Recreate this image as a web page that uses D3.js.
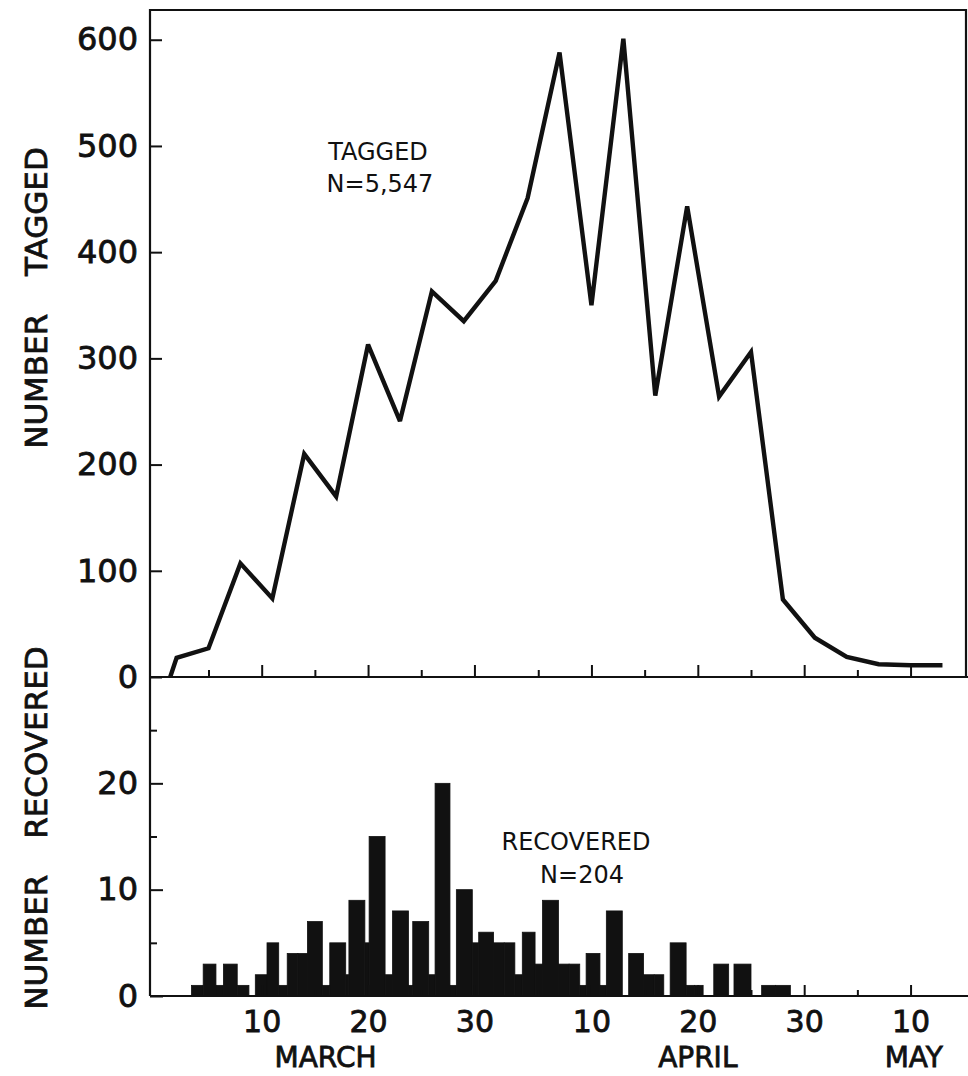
<!DOCTYPE html>
<html lang="en">
<head>
  <meta charset="UTF-8">
  <title>Number tagged and recovered</title>
  <script src="https://d3js.org/d3.v7.min.js"></script>
  <style>
    body {
      margin: 0;
      padding: 0;
      background: #fff;
    }
    svg {
      display: block;
      font-family: "DejaVu Sans", sans-serif;
    }
    .heavy {
      stroke: #111;
      stroke-width: 0.8px;
    }
  </style>
</head>
<body>
  <svg width="968" height="1076"></svg>

  <script>
    // days counted from the end of February (day 1 = March 1)
    const tagDays   = [1.4, 2, 5, 8, 11, 14, 17, 20, 23, 26, 29, 32, 35, 38, 41, 44, 47, 50, 53, 56, 59, 62, 65, 68, 71, 74];
    const tagCounts = [0, 18, 27, 107, 74, 210, 170, 313, 241, 363, 335, 373, 451, 588, 350, 601, 265, 443, 264, 306, 73, 37, 19, 12, 11, 11];

    // recovered histogram: bin edges (days) and counts
    const binStart  = [3.4, 4.5, 5.7, 6.4, 7.7, 9.4, 10.5, 11.6, 12.4, 13.4, 14.3, 15.7, 16.4, 17.9, 18.2, 19.7, 20.1, 21.6, 22.3, 23.8, 24.2, 25.7,
                       26.3, 27.7, 28.3, 29.8, 30.4, 31.8, 32.8, 33.8, 34.5, 35.7, 36.4, 37.9, 38.9, 39.9, 40.5, 41.8, 42.4, 44.5, 45.9, 46.9,
                       48.4, 49.9, 50.7, 52.5, 54.4, 57.0, 58.3];
    const binEnd    = [4.5, 5.7, 6.4, 7.7, 8.8, 10.5, 11.6, 12.4, 13.4, 14.3, 15.7, 16.4, 17.9, 18.2, 19.7, 20.1, 21.6, 22.3, 23.8, 24.2, 25.7, 26.3,
                       27.7, 28.3, 29.8, 30.4, 31.8, 32.8, 33.8, 34.5, 35.7, 36.4, 37.9, 38.9, 39.9, 40.5, 41.8, 42.4, 43.9, 45.9, 46.9, 47.8,
                       49.9, 50.7, 51.5, 53.9, 56.0, 58.3, 59.7];
    const recovered = [1, 3, 1, 3, 1, 2, 5, 1, 4, 4, 7, 1, 5, 2, 9, 5, 15, 2, 8, 1, 7, 2,
                       20, 1, 10, 5, 6, 5, 5, 2, 6, 3, 9, 3, 3, 1, 4, 1, 8, 4, 2, 2,
                       5, 1, 1, 3, 3, 1, 1];

    const majorDays   = [10, 20, 30, 41, 51, 61, 71];
    const majorLabels = ["10", "20", "30", "10", "20", "30", "10"];
    const minorDays   = [5, 15, 25, 36, 46, 56, 66];
    const months      = ["MARCH", "APRIL", "MAY"];
    const monthDays   = [16, 51, 71.3];

    const topTicks = [0, 100, 200, 300, 400, 500, 600];
    const botMajor = [0, 10, 20];
    const botMinor = [5, 15, 25];

    const svg = d3.select("svg");
    const ink = "#111";

    const x = d3.scaleLinear().domain([-0.5, 76.4]).range([150, 968]);
    const yTop = d3.scaleLinear().domain([0, 628]).range([677, 10]);
    const yBot = d3.scaleLinear().domain([0, 30]).range([996, 677]);

    // recovered bars
    const bins = binStart.map((s, i) => ({ s: s, e: binEnd[i], n: recovered[i] }));
    svg.append("g")
      .selectAll("rect")
      .data(bins)
      .enter().append("rect")
      .attr("x", d => x(d.s))
      .attr("width", d => x(d.e) - x(d.s))
      .attr("y", d => yBot(d.n))
      .attr("height", d => yBot(0) - yBot(d.n))
      .attr("fill", ink)
      .attr("stroke", ink)
      .attr("stroke-width", 0.8);

    // tagged line
    const line = d3.line()
      .x((d, i) => x(tagDays[i]))
      .y(d => yTop(d));

    svg.append("path")
      .datum(tagCounts)
      .attr("d", line)
      .attr("fill", "none")
      .attr("stroke", ink)
      .attr("stroke-width", 4.4)
      .attr("stroke-linejoin", "miter")
      .attr("stroke-miterlimit", 3);

    // x ticks on both panels
    function xTicks(y0, vals, len) {
      const g = svg.append("g")
        .attr("transform", `translate(0,${y0})`)
        .call(d3.axisBottom(x).tickValues(vals).tickSize(-len).tickFormat(""));
      g.select(".domain").remove();
      g.selectAll("line").attr("stroke", ink).attr("stroke-width", 2);
      return g;
    }
    xTicks(yTop(0), majorDays, 12);
    xTicks(yTop(0), minorDays, 7);
    xTicks(yBot(0), majorDays, 11);
    xTicks(yBot(0), minorDays, 6);

    // x labels
    const xLab = svg.append("g")
      .attr("transform", `translate(0,${yBot(0)})`)
      .call(d3.axisBottom(x).tickValues(majorDays).tickSize(0).tickPadding(15)
        .tickFormat((d, i) => majorLabels[i]));
    xLab.select(".domain").remove();
    xLab.selectAll("text")
      .attr("class", "heavy")
      .attr("font-size", 30)
      .attr("font-family", "DejaVu Sans")
      .attr("fill", ink);

    svg.append("g")
      .selectAll("text")
      .data(months)
      .enter().append("text")
      .attr("class", "heavy")
      .attr("x", (d, i) => x(monthDays[i]))
      .attr("y", 1067)
      .attr("text-anchor", "middle")
      .attr("font-size", 28)
      .attr("fill", ink)
      .text(d => d);

    // y axes
    function yAxis(scale, vals, len, labels) {
      const g = svg.append("g")
        .attr("transform", "translate(150,0)")
        .call(d3.axisLeft(scale).tickValues(vals).tickSize(-len).tickPadding(12)
          .tickFormat(labels ? d3.format("d") : ""));
      g.select(".domain").remove();
      g.selectAll("line").attr("stroke", ink).attr("stroke-width", 2);
      g.selectAll("text").attr("class", "heavy").attr("font-size", 32)
        .attr("font-family", "DejaVu Sans").attr("fill", ink);
      return g;
    }
    yAxis(yTop, topTicks, 12, true);
    yAxis(yBot, botMajor, 13, true);
    yAxis(yBot, botMinor, 7, false);

    // frame and baselines
    const frame = svg.append("g")
      .attr("stroke", ink)
      .attr("stroke-width", 2.2)
      .attr("fill", "none");
    frame.append("path")
      .attr("d", `M150,${yBot(0)} V10 H966 V${yTop(0)}`);
    frame.append("line")
      .attr("x1", 150).attr("x2", 968)
      .attr("y1", yTop(0)).attr("y2", yTop(0));
    frame.append("line")
      .attr("x1", 150).attr("x2", 968)
      .attr("y1", yBot(0)).attr("y2", yBot(0));

    // axis titles
    svg.append("text")
      .attr("class", "heavy")
      .attr("transform", "translate(36,298) rotate(-90)")
      .attr("text-anchor", "middle")
      .attr("dominant-baseline", "central")
      .attr("font-size", 31)
      .attr("word-spacing", 28)
      .attr("fill", ink)
      .text("NUMBER TAGGED");

    svg.append("text")
      .attr("class", "heavy")
      .attr("transform", "translate(36,828) rotate(-90)")
      .attr("text-anchor", "middle")
      .attr("dominant-baseline", "central")
      .attr("font-size", 31)
      .attr("word-spacing", 26)
      .attr("fill", ink)
      .text("NUMBER RECOVERED");

    // annotations
    const notes = [
      { t: "TAGGED", cx: 378, y: 160 },
      { t: "N=5,547", cx: 380, y: 192 },
      { t: "RECOVERED", cx: 576, y: 850 },
      { t: "N=204", cx: 582, y: 883 }
    ];
    svg.append("g")
      .selectAll("text")
      .data(notes)
      .enter().append("text")
      .attr("x", d => d.cx)
      .attr("y", d => d.y)
      .attr("text-anchor", "middle")
      .attr("font-size", 24)
      .attr("fill", ink)
      .text(d => d.t);
  </script>
</body>
</html>
